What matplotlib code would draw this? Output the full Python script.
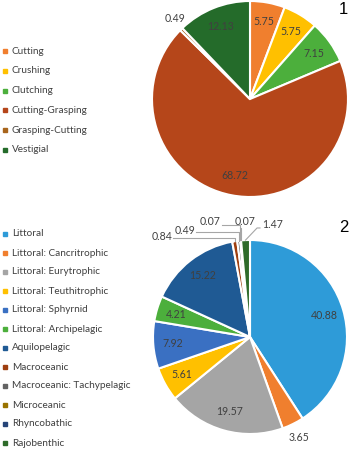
import matplotlib.pyplot as plt
from matplotlib.patches import Rectangle
import numpy as np

plt.rcParams['font.family'] = ['Lato', 'DejaVu Sans']

# Panel 1 - tooth type
types1 = ['Cutting', 'Crushing', 'Clutching', 'Cutting-Grasping', 'Grasping-Cutting', 'Vestigial']
pct1 = [5.75, 5.75, 7.15, 68.72, 0.49, 12.13]
colors1 = ['#F07F2E', '#FFC000', '#4CAF3C', '#B5461A', '#A8651C', '#246B2A']

# Panel 2 - ecomorphotype
types2 = ['Littoral', 'Littoral: Cancritrophic', 'Littoral: Eurytrophic', 'Littoral: Teuthitrophic',
          'Littoral: Sphyrnid', 'Littoral: Archipelagic', 'Aquilopelagic', 'Macroceanic',
          'Macroceanic: Tachypelagic', 'Microceanic', 'Rhyncobathic', 'Rajobenthic']
pct2 = [40.88, 3.65, 19.57, 5.61, 7.92, 4.21, 15.22, 0.84, 0.49, 0.07, 0.07, 1.47]
colors2 = ['#2E9BD8', '#F07F2E', '#A5A5A5', '#FFC000', '#3A70C2', '#4CAF3C',
           '#1F5A94', '#9E3F10', '#636363', '#997300', '#264478', '#2E6B2A']

W, H = 350, 450
fig = plt.figure(figsize=(W / 100, H / 100), dpi=100)
TXT = '#404040'
LINE = '#A6A6A6'


def pie_axes(cx, cy, r):
    return fig.add_axes([(cx - r) / W, 1 - (cy + r) / H, 2 * r / W, 2 * r / H])


def draw_pie(ax, vals, cols, outside, leaders):
    wedges, _ = ax.pie(vals, colors=cols, startangle=90, counterclock=False,
                       wedgeprops=dict(edgecolor='white', linewidth=1.5))
    ax.set_xlim(-1, 1)
    ax.set_ylim(-1, 1)
    for i, (w, v) in enumerate(zip(wedges, vals)):
        ang = np.deg2rad((w.theta1 + w.theta2) / 2)
        if i in outside:
            x, y = outside[i]
        else:
            x, y = 0.8 * np.cos(ang), 0.8 * np.sin(ang)
        ax.text(x, y, f'{v:.2f}', ha='center', va='center', fontsize=7.6, color=TXT)
        if i in leaders:
            ex, ey = np.cos(ang), np.sin(ang)
            axx, ayy, elbow = leaders[i]
            if elbow:
                pts = [(axx, ayy), (ex, ayy), (ex, ey)]
            else:
                pts = [(axx, ayy), (axx - 0.03, ayy), (ex, ey)]
            xs, ys = zip(*pts)
            ax.plot(xs, ys, color=LINE, lw=0.8, clip_on=False)


def legend(names, cols, y0, step):
    for i, (n, c) in enumerate(zip(names, cols)):
        y = y0 + i * step
        fig.patches.append(Rectangle((3 / W, 1 - (y + 2) / H), 4 / W, 4 / H,
                                     transform=fig.transFigure, color=c))
        fig.text(12 / W, 1 - y / H, n, fontsize=7.2, color=TXT, va='center', ha='left')


ax1 = pie_axes(250, 99, 98)
draw_pie(ax1, pct1, colors1, {4: (-0.77, 0.82)}, {})

ax2 = pie_axes(250, 337, 97)
draw_pie(ax2, pct2, colors2,
         {1: (0.505, -1.04), 7: (-0.907, 1.041), 8: (-0.67, 1.10),
          9: (-0.41, 1.186), 10: (-0.05, 1.186), 11: (0.237, 1.155)},
         {7: (-0.794, 1.02, True), 8: (-0.557, 1.082, True),
          9: (-0.289, 1.155, True), 10: (-0.103, 1.124, True),
          11: (0.103, 1.124, False)})

legend(types1, colors1, 51, 19.8)
legend(types2, colors2, 234, 19.0)

fig.text(348 / W, 1 - 10 / H, '1', fontsize=12, family='Liberation Sans', ha='right', va='center')
fig.text(348 / W, 1 - 227 / H, '2', fontsize=12, family='Liberation Sans', ha='right', va='center')

fig.savefig('out.png', dpi=100)
